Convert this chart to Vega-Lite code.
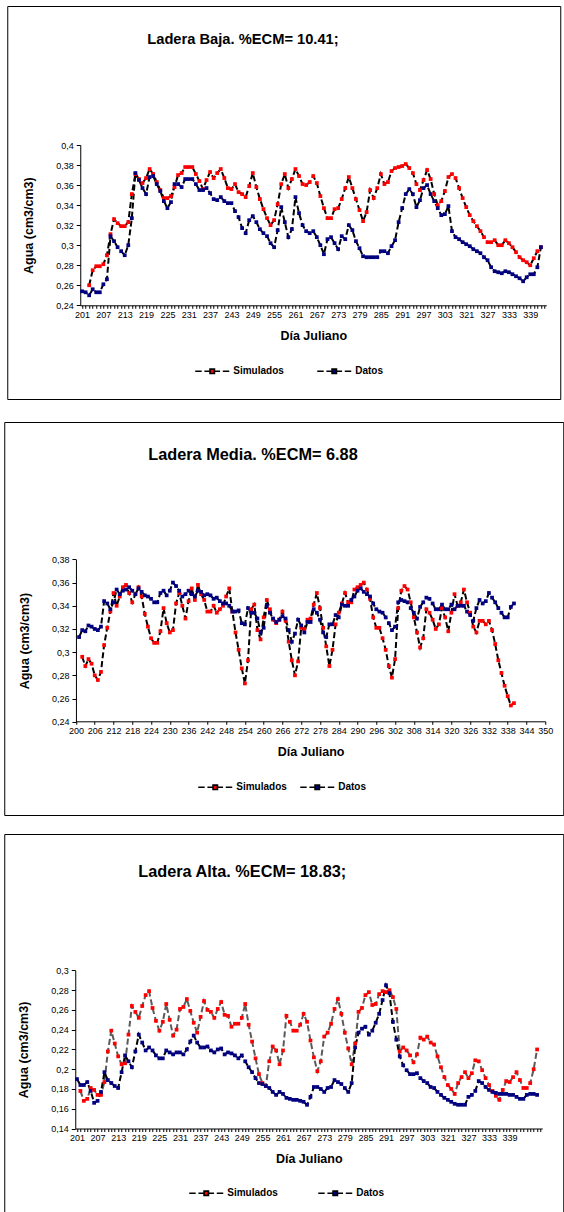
{
"$schema":"https://vega.github.io/schema/vega-lite/v6.json",
"background":"white",
"padding":{"left":3,"top":5,"right":0,"bottom":0},
"spacing":21,
"center":true,
"config":{"font":"Liberation Sans","view":{"stroke":"#000","strokeWidth":1},
"axis":{"grid":false,"domainColor":"#000","tickColor":"#000","labelColor":"#000","titleColor":"#000","labelFont":"Liberation Sans","labelFontSize":9,"titleFont":"Liberation Sans","titleFontSize":12.5,"titleFontWeight":"bold","domainWidth":1,"tickWidth":1},
"legend":{"title":null,"orient":"none","direction":"horizontal","padding":0,"labelFont":"Liberation Sans","labelFontSize":10,"labelFontWeight":"bold","labelColor":"#000","labelOffset":3,"symbolType":"M-1,0H-0.62M-0.46,0H-0.08M0.08,0H0.46M0.62,0H1M-0.13,-0.13H0.13V0.13H-0.13Z","symbolSize":1156,"symbolStrokeColor":"#000","symbolStrokeWidth":1.6,"symbolOpacity":1},
"title":{"font":"Liberation Sans","fontSize":15,"fontWeight":"bold","color":"#000","anchor":"start","frame":"group","baseline":"middle"}},
"resolve":{"scale":{"x":"independent","y":"independent","fill":"independent"}},
"vconcat":[
{"width":553,"height":393,
"title":{"text":"Ladera Baja. %ECM= 10.41;","dx":140,"offset":-41,"fontSize":14.7},
"data":{"values":[
{"dia":201,"Datos":0.254},{"dia":202,"Datos":0.253},{"dia":203,"Simulados":0.260,"Datos":0.250},{"dia":204,"Simulados":0.275,"Datos":0.256},{"dia":205,"Simulados":0.279,"Datos":0.253},{"dia":206,"Simulados":0.279,"Datos":0.253},{"dia":207,"Simulados":0.281,"Datos":0.261},{"dia":208,"Simulados":0.290,"Datos":0.266},{"dia":209,"Simulados":0.311,"Datos":0.309},{"dia":210,"Simulados":0.326,"Datos":0.304},
{"dia":211,"Simulados":0.322,"Datos":0.298},{"dia":212,"Simulados":0.319,"Datos":0.294},{"dia":213,"Simulados":0.319,"Datos":0.290},{"dia":214,"Simulados":0.323,"Datos":0.300},{"dia":215,"Simulados":0.351,"Datos":0.327},{"dia":216,"Simulados":0.371,"Datos":0.372},{"dia":217,"Simulados":0.366,"Datos":0.365},{"dia":218,"Simulados":0.362,"Datos":0.357},{"dia":219,"Simulados":0.367,"Datos":0.351},{"dia":220,"Simulados":0.376,"Datos":0.368},
{"dia":221,"Simulados":0.371,"Datos":0.369},{"dia":222,"Simulados":0.363,"Datos":0.361},{"dia":223,"Simulados":0.355,"Datos":0.354},{"dia":224,"Simulados":0.347,"Datos":0.344},{"dia":225,"Simulados":0.347,"Datos":0.337},{"dia":226,"Simulados":0.349,"Datos":0.343},{"dia":227,"Simulados":0.358,"Datos":0.361},{"dia":228,"Simulados":0.370,"Datos":0.361},{"dia":229,"Simulados":0.372,"Datos":0.358},{"dia":230,"Simulados":0.378,"Datos":0.366},
{"dia":231,"Simulados":0.378,"Datos":0.366},{"dia":232,"Simulados":0.378,"Datos":0.366},{"dia":233,"Simulados":0.371,"Datos":0.361},{"dia":234,"Simulados":0.364,"Datos":0.355},{"dia":235,"Simulados":0.356,"Datos":0.355},{"dia":236,"Simulados":0.365,"Datos":0.357},{"dia":237,"Simulados":0.373,"Datos":0.352},{"dia":238,"Simulados":0.367,"Datos":0.346},{"dia":239,"Simulados":0.372,"Datos":0.345},{"dia":240,"Simulados":0.376,"Datos":0.348},
{"dia":241,"Simulados":0.367,"Datos":0.344},{"dia":242,"Simulados":0.357,"Datos":0.342},{"dia":243,"Simulados":0.356,"Datos":0.342},{"dia":244,"Simulados":0.361,"Datos":0.334},{"dia":245,"Simulados":0.353,"Datos":0.328},{"dia":246,"Simulados":0.351,"Datos":0.317},{"dia":247,"Simulados":0.348,"Datos":0.312},{"dia":248,"Simulados":0.359,"Datos":0.325},{"dia":249,"Simulados":0.372,"Datos":0.329},{"dia":250,"Simulados":0.358,"Datos":0.323},
{"dia":251,"Simulados":0.346,"Datos":0.316},{"dia":252,"Simulados":0.336,"Datos":0.312},{"dia":253,"Simulados":0.327,"Datos":0.309},{"dia":254,"Simulados":0.320,"Datos":0.302},{"dia":255,"Simulados":0.325,"Datos":0.298},{"dia":256,"Simulados":0.341,"Datos":0.315},{"dia":257,"Simulados":0.361,"Datos":0.338},{"dia":258,"Simulados":0.371,"Datos":0.323},{"dia":259,"Simulados":0.357,"Datos":0.308},{"dia":260,"Simulados":0.366,"Datos":0.316},
{"dia":261,"Simulados":0.376,"Datos":0.348},{"dia":262,"Simulados":0.369,"Datos":0.332},{"dia":263,"Simulados":0.361,"Datos":0.320},{"dia":264,"Simulados":0.360,"Datos":0.314},{"dia":265,"Simulados":0.363,"Datos":0.312},{"dia":266,"Simulados":0.369,"Datos":0.314},{"dia":267,"Simulados":0.362,"Datos":0.308},{"dia":268,"Simulados":0.349,"Datos":0.300},{"dia":269,"Simulados":0.337,"Datos":0.291},{"dia":270,"Simulados":0.327,"Datos":0.306},
{"dia":271,"Simulados":0.327,"Datos":0.308},{"dia":272,"Simulados":0.336,"Datos":0.302},{"dia":273,"Simulados":0.337,"Datos":0.296},{"dia":274,"Simulados":0.346,"Datos":0.309},{"dia":275,"Simulados":0.357,"Datos":0.306},{"dia":276,"Simulados":0.368,"Datos":0.320},{"dia":277,"Simulados":0.357,"Datos":0.315},{"dia":278,"Simulados":0.346,"Datos":0.304},{"dia":279,"Simulados":0.335,"Datos":0.297},{"dia":280,"Simulados":0.324,"Datos":0.289},
{"dia":281,"Simulados":0.333,"Datos":0.288},{"dia":282,"Simulados":0.355,"Datos":0.288},{"dia":283,"Simulados":0.347,"Datos":0.288},{"dia":284,"Simulados":0.357,"Datos":0.288},{"dia":285,"Simulados":0.371,"Datos":0.294},{"dia":286,"Simulados":0.361,"Datos":0.294},{"dia":287,"Simulados":0.363,"Datos":0.292},{"dia":288,"Simulados":0.374,"Datos":0.299},{"dia":289,"Simulados":0.377,"Datos":0.305},{"dia":290,"Simulados":0.378,"Datos":0.323},
{"dia":291,"Simulados":0.379,"Datos":0.337},{"dia":292,"Simulados":0.381,"Datos":0.351},{"dia":293,"Simulados":0.377,"Datos":0.356},{"dia":294,"Simulados":0.372,"Datos":0.351},{"dia":295,"Simulados":0.361,"Datos":0.338},{"dia":296,"Simulados":0.355,"Datos":0.345},{"dia":297,"Simulados":0.365,"Datos":0.357},{"dia":298,"Simulados":0.375,"Datos":0.360},{"dia":299,"Simulados":0.366,"Datos":0.351},{"dia":300,"Simulados":0.351,"Datos":0.344},
{"dia":301,"Simulados":0.340,"Datos":0.337},{"dia":302,"Simulados":0.344,"Datos":0.330},{"dia":303,"Simulados":0.354,"Datos":0.331},{"dia":304,"Simulados":0.368,"Datos":0.339},{"dia":305,"Simulados":0.371,"Datos":0.314},{"dia":306,"Simulados":0.367,"Datos":0.308},{"dia":307,"Simulados":0.357,"Datos":0.306},{"dia":308,"Simulados":0.347,"Datos":0.303},
{"dia":321,"Simulados":0.338,"Datos":0.301},{"dia":322,"Simulados":0.330,"Datos":0.299},{"dia":323,"Simulados":0.324,"Datos":0.296},{"dia":324,"Simulados":0.319,"Datos":0.294},{"dia":325,"Simulados":0.314,"Datos":0.292},{"dia":326,"Simulados":0.308,"Datos":0.288},{"dia":327,"Simulados":0.303,"Datos":0.285},{"dia":328,"Simulados":0.303,"Datos":0.278},{"dia":329,"Simulados":0.305,"Datos":0.274},{"dia":330,"Simulados":0.300,"Datos":0.273},
{"dia":331,"Simulados":0.300,"Datos":0.272},{"dia":332,"Simulados":0.305,"Datos":0.274},{"dia":333,"Simulados":0.302,"Datos":0.273},{"dia":334,"Simulados":0.298,"Datos":0.271},{"dia":335,"Simulados":0.293,"Datos":0.269},{"dia":336,"Simulados":0.288,"Datos":0.267},{"dia":337,"Simulados":0.285,"Datos":0.264},{"dia":338,"Simulados":0.283,"Datos":0.268},{"dia":339,"Simulados":0.280,"Datos":0.271},{"dia":340,"Simulados":0.287,"Datos":0.271},
{"dia":341,"Simulados":0.294,"Datos":0.278},{"dia":342,"Simulados":0.298,"Datos":0.298}
]},
"transform":[{"fold":["Simulados","Datos"],"as":["serie","valor"]},{"filter":"isValid(datum.valor)"}],
"encoding":{
"x":{"field":"dia","type":"ordinal","scale":{"type":"point","padding":0.5,"range":[73,539],"domain":[201,202,203,204,205,206,207,208,209,210,211,212,213,214,215,216,217,218,219,220,221,222,223,224,225,226,227,228,229,230,231,232,233,234,235,236,237,238,239,240,241,242,243,244,245,246,247,248,249,250,251,252,253,254,255,256,257,258,259,260,261,262,263,264,265,266,267,268,269,270,271,272,273,274,275,276,277,278,279,280,281,282,283,284,285,286,287,288,289,290,291,292,293,294,295,296,297,298,299,300,301,302,303,304,305,306,307,308,321,322,323,324,325,326,327,328,329,330,331,332,333,334,335,336,337,338,339,340,341,342,343]},
"axis":{"title":"Día Juliano","offset":-93.7,"labelAngle":0,"labelOverlap":false,"tickSize":3,"labelPadding":2,"titlePadding":10,"labelExpr":"indexof(['201','207','213','219','225','231','237','243','249','255','261','267','273','279','285','291','297','303','321','327','333','339'], datum.label) >= 0 ? datum.label : ''"}},
"y":{"field":"valor","type":"quantitative","scale":{"domain":[0.24,0.4],"range":[299.3,139],"nice":false,"zero":false},
"axis":{"title":"Agua (cm3/cm3)","offset":-73,"values":[0.24,0.26,0.28,0.3,0.32,0.34,0.36,0.38,0.4],"labelExpr":"replace(format(datum.value, '.2~f'), '.', ',')","tickSize":4,"labelPadding":3,"titlePadding":20}}
},
"layer":[
{"mark":{"type":"line","strokeWidth":2,"strokeDash":[6,3],"color":"#000000"},"encoding":{"detail":{"field":"serie","type":"nominal"}}},
{"mark":{"type":"point","shape":"square","filled":true,"size":14,"opacity":1,"strokeWidth":0},"encoding":{"fill":{"field":"serie","type":"nominal","scale":{"domain":["Simulados","Datos"],"range":["#ff0000","#000080"]},
"legend":{"title":null,"orient":"none","legendX":187,"legendY":347,"columnPadding":29}}}}
]},
{"spacing":17,
"resolve":{"scale":{"x":"independent","y":"independent","fill":"independent"}},
"vconcat":[
{"width":559,"height":393,
"title":{"text":"Ladera Media. %ECM= 6.88","dx":144,"offset":-41.7,"fontSize":16.3},
"data":{"values":[
{"dia":201,"Datos":0.313},{"dia":202,"Datos":0.319,"Simulados":0.296},{"dia":203,"Datos":0.318,"Simulados":0.288},{"dia":204,"Datos":0.323,"Simulados":0.294},{"dia":205,"Datos":0.322,"Simulados":0.290},{"dia":206,"Datos":0.320,"Simulados":0.280},{"dia":207,"Datos":0.319,"Simulados":0.276},{"dia":208,"Datos":0.322,"Simulados":0.283},{"dia":209,"Datos":0.344,"Simulados":0.306},{"dia":210,"Datos":0.342,"Simulados":0.321},
{"dia":211,"Datos":0.337,"Simulados":0.335},{"dia":212,"Datos":0.343,"Simulados":0.351},{"dia":213,"Datos":0.354,"Simulados":0.340},{"dia":214,"Datos":0.350,"Simulados":0.348},{"dia":215,"Datos":0.353,"Simulados":0.356},{"dia":216,"Datos":0.354,"Simulados":0.358},{"dia":217,"Datos":0.356,"Simulados":0.351},{"dia":218,"Datos":0.353,"Simulados":0.343},{"dia":219,"Datos":0.350,"Simulados":0.350},{"dia":220,"Datos":0.355,"Simulados":0.356},
{"dia":221,"Datos":0.352,"Simulados":0.348},{"dia":222,"Datos":0.349,"Simulados":0.333},{"dia":223,"Datos":0.348,"Simulados":0.322},{"dia":224,"Datos":0.346,"Simulados":0.312},{"dia":225,"Datos":0.343,"Simulados":0.308},{"dia":226,"Datos":0.343,"Simulados":0.308},{"dia":227,"Datos":0.351,"Simulados":0.318},{"dia":228,"Datos":0.353,"Simulados":0.338},{"dia":229,"Datos":0.349,"Simulados":0.325},{"dia":230,"Datos":0.353,"Simulados":0.317},
{"dia":231,"Datos":0.360,"Simulados":0.319},{"dia":232,"Datos":0.357,"Simulados":0.342},{"dia":233,"Datos":0.353,"Simulados":0.351},{"dia":234,"Datos":0.348,"Simulados":0.340},{"dia":235,"Datos":0.350,"Simulados":0.329},{"dia":236,"Datos":0.353,"Simulados":0.344},{"dia":237,"Datos":0.350,"Simulados":0.355},{"dia":238,"Datos":0.348,"Simulados":0.345},{"dia":239,"Datos":0.353,"Simulados":0.358},{"dia":240,"Datos":0.352,"Simulados":0.350},
{"dia":241,"Datos":0.349,"Simulados":0.345},{"dia":242,"Datos":0.350,"Simulados":0.335},{"dia":243,"Datos":0.349,"Simulados":0.335},{"dia":244,"Datos":0.346,"Simulados":0.340},{"dia":245,"Datos":0.347,"Simulados":0.334},{"dia":246,"Datos":0.344,"Simulados":0.337},{"dia":247,"Datos":0.342,"Simulados":0.340},{"dia":248,"Datos":0.342,"Simulados":0.348},{"dia":249,"Datos":0.340,"Simulados":0.355},{"dia":250,"Datos":0.335,"Simulados":0.335},
{"dia":251,"Datos":0.335,"Simulados":0.317},{"dia":252,"Datos":0.336,"Simulados":0.302},{"dia":253,"Datos":0.325,"Simulados":0.286},{"dia":254,"Datos":0.324,"Simulados":0.273},{"dia":255,"Datos":0.338,"Simulados":0.293},{"dia":256,"Datos":0.334,"Simulados":0.337},{"dia":257,"Datos":0.334,"Simulados":0.341},{"dia":258,"Datos":0.329,"Simulados":0.319},{"dia":259,"Datos":0.317,"Simulados":0.311},{"dia":260,"Datos":0.321,"Simulados":0.330},
{"dia":261,"Datos":0.340,"Simulados":0.345},{"dia":262,"Datos":0.334,"Simulados":0.337},{"dia":263,"Datos":0.329,"Simulados":0.328},{"dia":264,"Datos":0.326,"Simulados":0.325},{"dia":265,"Datos":0.328,"Simulados":0.328},{"dia":266,"Datos":0.331,"Simulados":0.335},{"dia":267,"Datos":0.329,"Simulados":0.327},{"dia":268,"Datos":0.319,"Simulados":0.309},{"dia":269,"Datos":0.309,"Simulados":0.293},{"dia":270,"Datos":0.316,"Simulados":0.280},
{"dia":271,"Datos":0.328,"Simulados":0.292},{"dia":272,"Datos":0.323,"Simulados":0.321},{"dia":273,"Datos":0.317,"Simulados":0.320},{"dia":274,"Datos":0.326,"Simulados":0.328},{"dia":275,"Datos":0.326,"Simulados":0.329},{"dia":276,"Datos":0.337,"Simulados":0.341},{"dia":277,"Datos":0.334,"Simulados":0.351},{"dia":278,"Datos":0.328,"Simulados":0.338},{"dia":279,"Datos":0.317,"Simulados":0.321},{"dia":280,"Datos":0.313,"Simulados":0.305},
{"dia":281,"Datos":0.324,"Simulados":0.288},{"dia":282,"Datos":0.324,"Simulados":0.302},{"dia":283,"Datos":0.332,"Simulados":0.324},{"dia":284,"Datos":0.330,"Simulados":0.334},{"dia":285,"Datos":0.341,"Simulados":0.342},{"dia":286,"Datos":0.340,"Simulados":0.351},{"dia":287,"Datos":0.340,"Simulados":0.343},{"dia":288,"Datos":0.345,"Simulados":0.343},{"dia":289,"Datos":0.348,"Simulados":0.354},{"dia":290,"Datos":0.353,"Simulados":0.356},
{"dia":291,"Datos":0.355,"Simulados":0.358},{"dia":292,"Datos":0.352,"Simulados":0.360},{"dia":293,"Datos":0.350,"Simulados":0.354},{"dia":294,"Datos":0.348,"Simulados":0.346},{"dia":295,"Datos":0.342,"Simulados":0.330},{"dia":296,"Datos":0.337,"Simulados":0.321},{"dia":297,"Datos":0.335,"Simulados":0.321},{"dia":298,"Datos":0.334,"Simulados":0.312},{"dia":299,"Datos":0.330,"Simulados":0.302},{"dia":300,"Datos":0.325,"Simulados":0.288},
{"dia":301,"Datos":0.319,"Simulados":0.278},{"dia":302,"Datos":0.322,"Simulados":0.294},{"dia":303,"Datos":0.343,"Simulados":0.338},{"dia":304,"Datos":0.345,"Simulados":0.353},{"dia":305,"Datos":0.344,"Simulados":0.357},{"dia":306,"Datos":0.343,"Simulados":0.354},{"dia":307,"Datos":0.338,"Simulados":0.343},{"dia":308,"Datos":0.334,"Simulados":0.330},{"dia":309,"Datos":0.329,"Simulados":0.317},{"dia":310,"Datos":0.339,"Simulados":0.304},
{"dia":311,"Datos":0.343,"Simulados":0.312},{"dia":312,"Datos":0.347,"Simulados":0.337},{"dia":313,"Datos":0.346,"Simulados":0.334},{"dia":314,"Datos":0.342,"Simulados":0.328},{"dia":315,"Datos":0.337,"Simulados":0.320},{"dia":316,"Datos":0.337,"Simulados":0.324},{"dia":317,"Datos":0.341,"Simulados":0.338},{"dia":318,"Datos":0.337,"Simulados":0.330},{"dia":319,"Datos":0.337,"Simulados":0.318},{"dia":320,"Datos":0.341,"Simulados":0.334},
{"dia":321,"Datos":0.337,"Simulados":0.350},{"dia":322,"Datos":0.340,"Simulados":0.340},{"dia":323,"Datos":0.340,"Simulados":0.343},{"dia":324,"Datos":0.340,"Simulados":0.354},{"dia":325,"Datos":0.335,"Simulados":0.343},{"dia":326,"Datos":0.332,"Simulados":0.334},{"dia":327,"Datos":0.327,"Simulados":0.322},{"dia":328,"Datos":0.338,"Simulados":0.317},{"dia":329,"Datos":0.345,"Simulados":0.327},{"dia":330,"Datos":0.342,"Simulados":0.327},
{"dia":331,"Datos":0.344,"Simulados":0.324},{"dia":332,"Datos":0.351,"Simulados":0.327},{"dia":333,"Datos":0.347,"Simulados":0.319},{"dia":334,"Datos":0.343,"Simulados":0.307},{"dia":335,"Datos":0.338,"Simulados":0.293},{"dia":336,"Datos":0.334,"Simulados":0.282},{"dia":337,"Datos":0.330,"Simulados":0.271},{"dia":338,"Datos":0.330,"Simulados":0.262},{"dia":339,"Datos":0.339,"Simulados":0.254},{"dia":340,"Datos":0.342,"Simulados":0.256}
]},
"transform":[{"fold":["Simulados","Datos"],"as":["serie","valor"]},{"filter":"isValid(datum.valor)"}],
"encoding":{
"x":{"field":"dia","type":"quantitative","scale":{"domain":[200,350],"range":[71.7,541],"nice":false,"zero":false},
"axis":{"title":"Día Juliano","offset":-93.7,"values":[200,206,212,218,224,230,236,242,248,254,260,266,272,278,284,290,296,302,308,314,320,326,332,338,344,350],"format":"d","labelOverlap":false,"labelFlush":false,"tickSize":3,"labelPadding":2,"titlePadding":10}},
"y":{"field":"valor","type":"quantitative","scale":{"domain":[0.24,0.38],"range":[299.7,137.4],"nice":false,"zero":false},
"axis":{"title":"Agua (cm3/cm3)","offset":-71.7,"values":[0.24,0.26,0.28,0.3,0.32,0.34,0.36,0.38],"labelExpr":"replace(format(datum.value, '.2~f'), '.', ',')","tickSize":4,"labelPadding":3,"titlePadding":20}}
},
"layer":[
{"mark":{"type":"line","strokeWidth":2,"strokeDash":[6,3],"color":"#000000"},"encoding":{"detail":{"field":"serie","type":"nominal"}}},
{"mark":{"type":"point","shape":"square","filled":true,"size":14,"opacity":1,"strokeWidth":0},"encoding":{"fill":{"field":"serie","type":"nominal","scale":{"domain":["Simulados","Datos"],"range":["#ff0000","#000080"]},
"legend":{"title":null,"orient":"none","legendX":193,"legendY":347,"columnPadding":9}}}}
]},
{"width":559,"height":393,
"title":{"text":"Ladera Alta. %ECM= 18.83;","dx":134,"offset":-46.7,"fontSize":16.3},
"data":{"values":[
{"dia":201,"Datos":0.190},{"dia":202,"Simulados":0.178,"Datos":0.184},{"dia":203,"Simulados":0.168,"Datos":0.184},{"dia":204,"Simulados":0.170,"Datos":0.187},{"dia":205,"Simulados":0.181,"Datos":0.178},{"dia":206,"Simulados":0.179,"Datos":0.166},{"dia":207,"Simulados":0.174,"Datos":0.168},{"dia":208,"Simulados":0.174,"Datos":0.177},{"dia":209,"Simulados":0.187,"Datos":0.197},{"dia":210,"Simulados":0.218,"Datos":0.189},
{"dia":211,"Simulados":0.239,"Datos":0.186},{"dia":212,"Simulados":0.226,"Datos":0.183},{"dia":213,"Simulados":0.213,"Datos":0.181},{"dia":214,"Simulados":0.205,"Datos":0.197},{"dia":215,"Simulados":0.206,"Datos":0.214},{"dia":216,"Simulados":0.235,"Datos":0.208},{"dia":217,"Simulados":0.264,"Datos":0.202},{"dia":218,"Simulados":0.258,"Datos":0.218},{"dia":219,"Simulados":0.252,"Datos":0.235},{"dia":220,"Simulados":0.264,"Datos":0.227},
{"dia":221,"Simulados":0.275,"Datos":0.219},{"dia":222,"Simulados":0.279,"Datos":0.222},{"dia":223,"Simulados":0.262,"Datos":0.219},{"dia":224,"Simulados":0.249,"Datos":0.214},{"dia":225,"Simulados":0.239,"Datos":0.211},{"dia":226,"Simulados":0.248,"Datos":0.211},{"dia":227,"Simulados":0.266,"Datos":0.219},{"dia":228,"Simulados":0.250,"Datos":0.217},{"dia":229,"Simulados":0.234,"Datos":0.215},{"dia":230,"Simulados":0.240,"Datos":0.217},
{"dia":231,"Simulados":0.261,"Datos":0.217},{"dia":232,"Simulados":0.263,"Datos":0.215},{"dia":233,"Simulados":0.271,"Datos":0.220},{"dia":234,"Simulados":0.259,"Datos":0.228},{"dia":235,"Simulados":0.247,"Datos":0.234},{"dia":236,"Simulados":0.237,"Datos":0.227},{"dia":237,"Simulados":0.253,"Datos":0.222},{"dia":238,"Simulados":0.269,"Datos":0.222},{"dia":239,"Simulados":0.260,"Datos":0.223},{"dia":240,"Simulados":0.258,"Datos":0.219},
{"dia":241,"Simulados":0.252,"Datos":0.217},{"dia":242,"Simulados":0.261,"Datos":0.220},{"dia":243,"Simulados":0.268,"Datos":0.221},{"dia":244,"Simulados":0.255,"Datos":0.215},{"dia":245,"Simulados":0.254,"Datos":0.217},{"dia":246,"Simulados":0.243,"Datos":0.216},{"dia":247,"Simulados":0.246,"Datos":0.214},{"dia":248,"Simulados":0.246,"Datos":0.211},{"dia":249,"Simulados":0.252,"Datos":0.214},{"dia":250,"Simulados":0.266,"Datos":0.208},
{"dia":251,"Simulados":0.245,"Datos":0.202},{"dia":252,"Simulados":0.228,"Datos":0.197},{"dia":253,"Simulados":0.211,"Datos":0.191},{"dia":254,"Simulados":0.195,"Datos":0.186},{"dia":255,"Simulados":0.186,"Datos":0.185},{"dia":256,"Simulados":0.183,"Datos":0.183},{"dia":257,"Simulados":0.208,"Datos":0.181},{"dia":258,"Simulados":0.223,"Datos":0.177},{"dia":259,"Simulados":0.219,"Datos":0.174},{"dia":260,"Simulados":0.205,"Datos":0.177},
{"dia":261,"Simulados":0.219,"Datos":0.175},{"dia":262,"Simulados":0.254,"Datos":0.171},{"dia":263,"Simulados":0.248,"Datos":0.170},{"dia":264,"Simulados":0.239,"Datos":0.169},{"dia":265,"Simulados":0.239,"Datos":0.169},{"dia":266,"Simulados":0.245,"Datos":0.168},{"dia":267,"Simulados":0.256,"Datos":0.167},{"dia":268,"Simulados":0.248,"Datos":0.164},{"dia":269,"Simulados":0.229,"Datos":0.172},{"dia":270,"Simulados":0.212,"Datos":0.182},
{"dia":271,"Simulados":0.198,"Datos":0.182},{"dia":272,"Simulados":0.208,"Datos":0.180},{"dia":273,"Simulados":0.233,"Datos":0.177},{"dia":274,"Simulados":0.237,"Datos":0.181},{"dia":275,"Simulados":0.246,"Datos":0.182},{"dia":276,"Simulados":0.261,"Datos":0.189},{"dia":277,"Simulados":0.271,"Datos":0.187},{"dia":278,"Simulados":0.256,"Datos":0.185},{"dia":279,"Simulados":0.237,"Datos":0.181},{"dia":280,"Simulados":0.221,"Datos":0.177},
{"dia":281,"Simulados":0.205,"Datos":0.186},{"dia":282,"Simulados":0.226,"Datos":0.222},{"dia":283,"Simulados":0.258,"Datos":0.237},{"dia":284,"Simulados":0.262,"Datos":0.241},{"dia":285,"Simulados":0.275,"Datos":0.243},{"dia":286,"Simulados":0.278,"Datos":0.235},{"dia":287,"Simulados":0.265,"Datos":0.239},{"dia":288,"Simulados":0.266,"Datos":0.247},{"dia":289,"Simulados":0.276,"Datos":0.256},{"dia":290,"Simulados":0.279,"Datos":0.270},
{"dia":291,"Simulados":0.278,"Datos":0.285},{"dia":292,"Simulados":0.280,"Datos":0.277},{"dia":293,"Simulados":0.273,"Datos":0.248},{"dia":294,"Simulados":0.261,"Datos":0.230},{"dia":295,"Simulados":0.218,"Datos":0.213},{"dia":296,"Simulados":0.222,"Datos":0.204},{"dia":297,"Simulados":0.219,"Datos":0.199},{"dia":298,"Simulados":0.214,"Datos":0.195},{"dia":299,"Simulados":0.207,"Datos":0.195},{"dia":300,"Simulados":0.215,"Datos":0.196},
{"dia":301,"Simulados":0.232,"Datos":0.191},{"dia":302,"Simulados":0.230,"Datos":0.188},{"dia":303,"Simulados":0.233,"Datos":0.186},{"dia":304,"Simulados":0.227,"Datos":0.182},{"dia":305,"Simulados":0.225,"Datos":0.181},{"dia":306,"Simulados":0.213,"Datos":0.177},{"dia":307,"Simulados":0.202,"Datos":0.174},{"dia":308,"Simulados":0.192,"Datos":0.171},
{"dia":321,"Simulados":0.184,"Datos":0.169},{"dia":322,"Simulados":0.180,"Datos":0.167},{"dia":323,"Simulados":0.175,"Datos":0.165},{"dia":324,"Simulados":0.186,"Datos":0.164},{"dia":325,"Simulados":0.192,"Datos":0.164},{"dia":326,"Simulados":0.197,"Datos":0.164},{"dia":327,"Simulados":0.191,"Datos":0.172},{"dia":328,"Simulados":0.196,"Datos":0.174},{"dia":329,"Simulados":0.209,"Datos":0.178},{"dia":330,"Simulados":0.208,"Datos":0.188},
{"dia":331,"Simulados":0.199,"Datos":0.186},{"dia":332,"Simulados":0.191,"Datos":0.182},{"dia":333,"Simulados":0.184,"Datos":0.179},{"dia":334,"Simulados":0.178,"Datos":0.177},{"dia":335,"Simulados":0.173,"Datos":0.176},{"dia":336,"Simulados":0.169,"Datos":0.175},{"dia":337,"Simulados":0.179,"Datos":0.175},{"dia":338,"Simulados":0.188,"Datos":0.175},{"dia":339,"Simulados":0.187,"Datos":0.174},{"dia":340,"Simulados":0.192,"Datos":0.174},
{"dia":341,"Simulados":0.197,"Datos":0.172},{"dia":342,"Simulados":0.189,"Datos":0.170},{"dia":343,"Simulados":0.181,"Datos":0.170},{"dia":344,"Simulados":0.181,"Datos":0.174},{"dia":345,"Simulados":0.186,"Datos":0.175},{"dia":346,"Simulados":0.200,"Datos":0.175},{"dia":347,"Simulados":0.220,"Datos":0.174}
]},
"transform":[{"fold":["Simulados","Datos"],"as":["serie","valor"]},{"filter":"isValid(datum.valor)"}],
"encoding":{
"x":{"field":"dia","type":"ordinal","scale":{"type":"point","padding":0.5,"range":[71,538],"domain":[201,202,203,204,205,206,207,208,209,210,211,212,213,214,215,216,217,218,219,220,221,222,223,224,225,226,227,228,229,230,231,232,233,234,235,236,237,238,239,240,241,242,243,244,245,246,247,248,249,250,251,252,253,254,255,256,257,258,259,260,261,262,263,264,265,266,267,268,269,270,271,272,273,274,275,276,277,278,279,280,281,282,283,284,285,286,287,288,289,290,291,292,293,294,295,296,297,298,299,300,301,302,303,304,305,306,307,308,321,322,323,324,325,326,327,328,329,330,331,332,333,334,335,336,337,338,339,340,341,342,343,344,345,346,347,348]},
"axis":{"title":"Día Juliano","offset":-98.5,"labelAngle":0,"labelOverlap":false,"tickSize":3,"labelPadding":2,"titlePadding":10,"labelExpr":"indexof(['201','207','213','219','225','231','237','243','249','255','261','267','273','279','285','291','297','303','321','327','333','339'], datum.label) >= 0 ? datum.label : ''"}},
"y":{"field":"valor","type":"quantitative","scale":{"domain":[0.14,0.3],"range":[294.5,136.4],"nice":false,"zero":false},
"axis":{"title":"Agua (cm3/cm3)","offset":-71,"values":[0.14,0.16,0.18,0.2,0.22,0.24,0.26,0.28,0.3],"labelExpr":"replace(format(datum.value, '.2~f'), '.', ',')","tickSize":4,"labelPadding":3,"titlePadding":20}}
},
"layer":[
{"transform":[{"filter":"datum.serie === 'Simulados'"}],"mark":{"type":"line","strokeWidth":2,"strokeDash":[6,3],"color":"#5a5a5a"},"encoding":{}},
{"transform":[{"filter":"datum.serie === 'Datos'"}],"mark":{"type":"line","strokeWidth":2,"strokeDash":[6,3],"color":"#000000"},"encoding":{}},
{"mark":{"type":"point","shape":"square","filled":true,"size":14,"opacity":1,"strokeWidth":0},"encoding":{"fill":{"field":"serie","type":"nominal","scale":{"domain":["Simulados","Datos"],"range":["#ff0000","#000080"]},
"legend":{"title":null,"orient":"none","legendX":184,"legendY":341,"columnPadding":36}}}}
]}
]}
]
}
